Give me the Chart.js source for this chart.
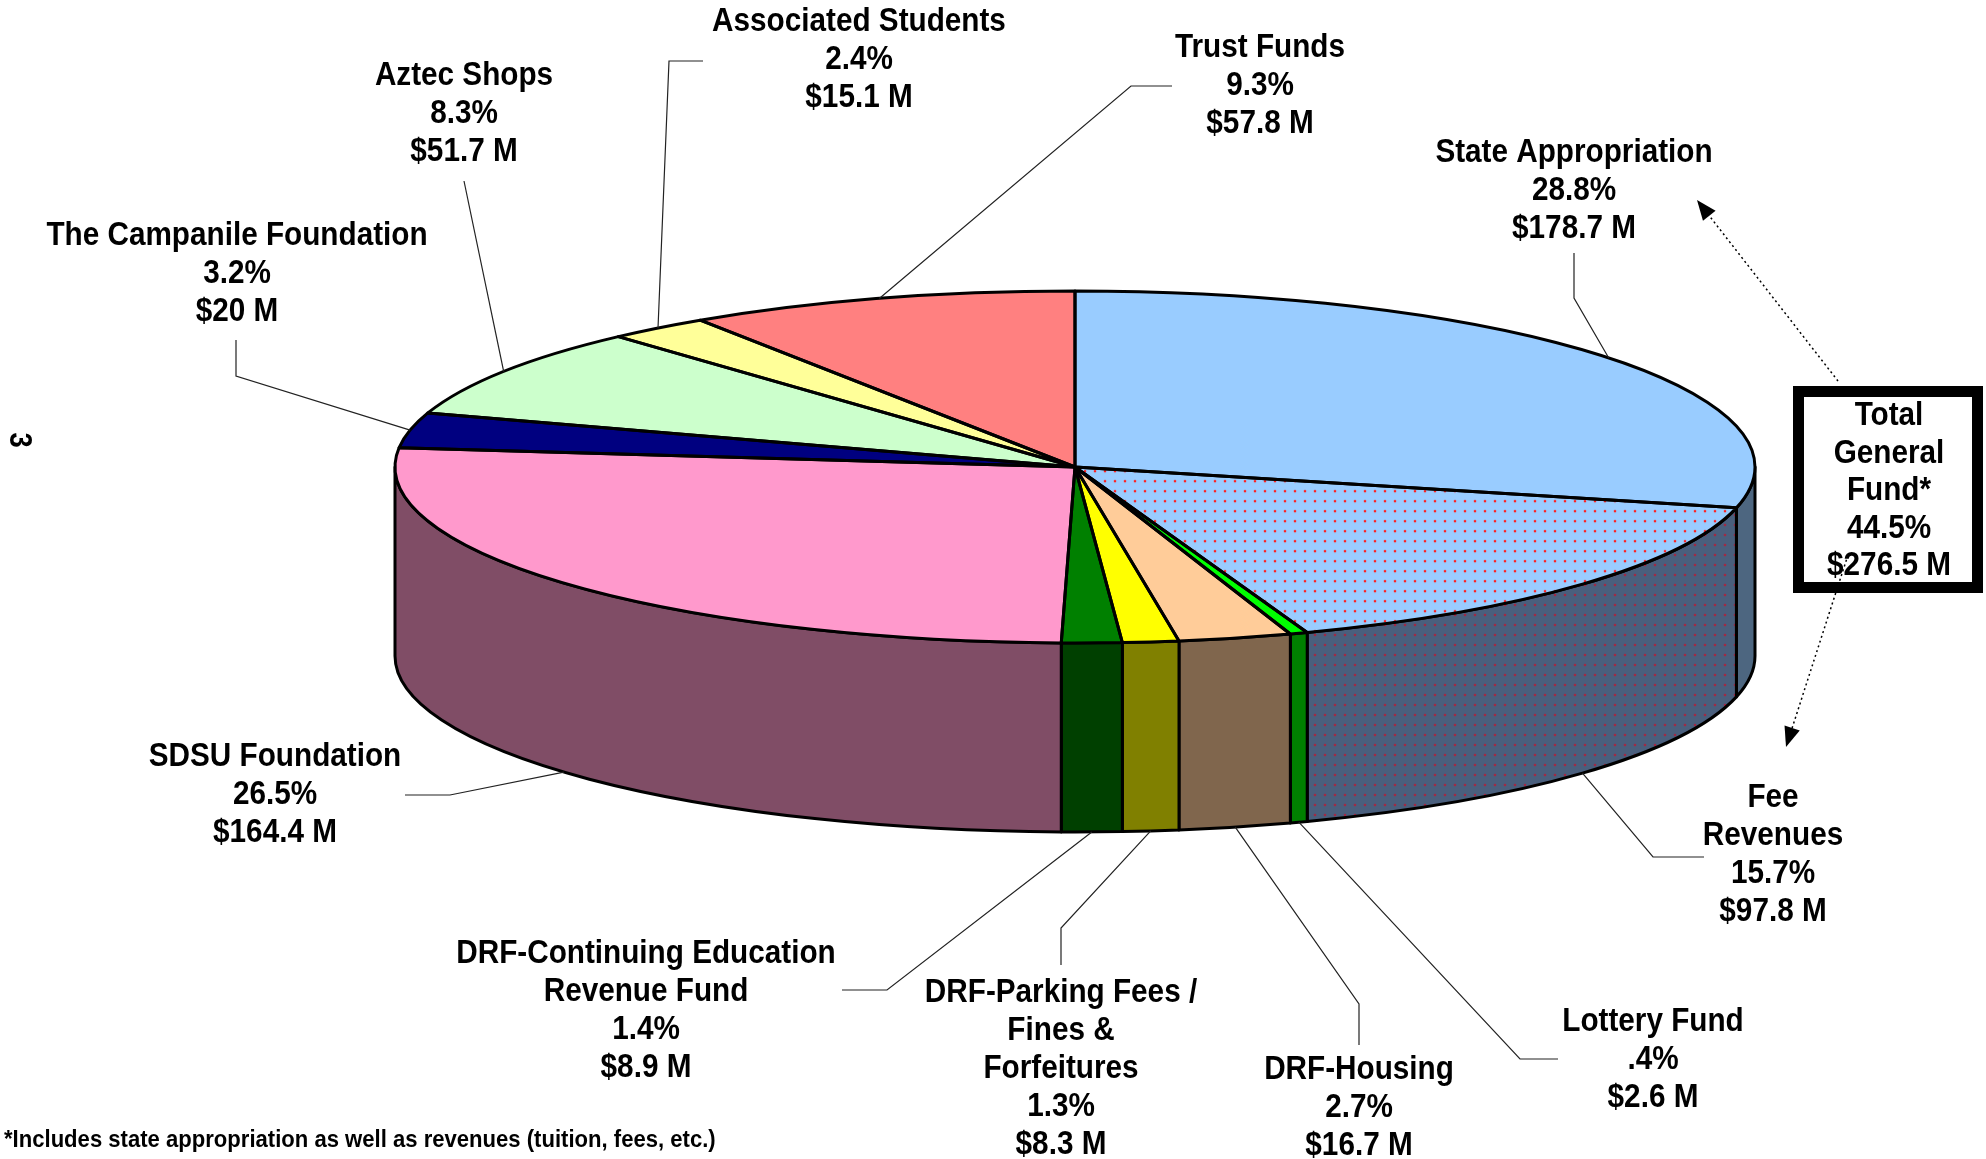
<!DOCTYPE html>
<html>
<head>
<meta charset="utf-8">
<script src="https://cdn.jsdelivr.net/npm/chart.js@4.4.1/dist/chart.umd.min.js"></script>
<style>
html, body { margin: 0; padding: 0; background: #fff; }
</style>
</head>
<body>
<canvas id="myChart" width="1986" height="1159"></canvas>
<script>
// slices, clockwise from 12 o'clock
const labels = ['State Appropriation', 'Fee Revenues', 'Lottery Fund', 'DRF-Housing',
    'DRF-Parking Fees / Fines & Forfeitures', 'DRF-Continuing Education Revenue Fund',
    'SDSU Foundation', 'The Campanile Foundation', 'Aztec Shops', 'Associated Students', 'Trust Funds'];
const nameLines = [['State Appropriation'], ['Fee', 'Revenues'], ['Lottery Fund'], ['DRF-Housing'],
    ['DRF-Parking Fees /', 'Fines &', 'Forfeitures'], ['DRF-Continuing Education', 'Revenue Fund'],
    ['SDSU Foundation'], ['The Campanile Foundation'], ['Aztec Shops'], ['Associated Students'], ['Trust Funds']];
const percents = ['28.8%', '15.7%', '.4%', '2.7%', '1.3%', '1.4%', '26.5%', '3.2%', '8.3%', '2.4%', '9.3%'];
const amounts = [178.7, 97.8, 2.6, 16.7, 8.3, 8.9, 164.4, 20, 51.7, 15.1, 57.8];
const totalLines = ['Total', 'General', 'Fund*', '44.5%', '$276.5 M'];
const footnote = '*Includes state appropriation as well as revenues (tuition, fees, etc.)';
const pageNumber = '3';

const topColors = ['#99ccff', 'pattern', '#00ff00', '#ffcc99', '#ffff00', '#008000',
    '#ff99cc', '#000080', '#ccffcc', '#ffff99', '#ff8080'];
const sideColors = ['#4d6680', 'pattern', '#008000', '#80664d', '#808000', '#004000',
    '#804d66', '#000040', '#667f66', '#80804d', '#804040'];

// layout (px)
const squash = 176 / 680;
const depth = 189;
const lineH = 38;
const labelFont = 'bold 33px "Liberation Sans", Arial, sans-serif';
const textSx = 0.9;
const labelPos = [[1574, 153], [1773, 798], [1653, 1022], [1359, 1070], [1061, 993], [646, 954],
    [275, 757], [237, 236], [464, 76], [859, 22], [1260, 48]];
const leaderBends = [
    [[1574, 298], [1574, 253]],
    [[1653, 857], [1704, 857]],
    [[1520, 1059], [1558, 1059]],
    [[1359, 1004], [1359, 1045]],
    [[1061, 928], [1061, 965]],
    [[887, 990], [842, 990]],
    [[450, 795], [405, 795]],
    [[236, 376], [236, 340]],
    [[464, 181]],
    [[669, 61], [703, 61]],
    [[1131, 86], [1172, 86]]
];

function dotPattern(bg, dot, h) {
    const c = document.createElement('canvas');
    c.width = 10; c.height = 10;
    const g = c.getContext('2d');
    g.fillStyle = bg; g.fillRect(0, 0, 10, 10);
    g.fillStyle = dot;
    g.beginPath(); g.arc(5, 5, 1.3, 0, Math.PI * 2); g.fill();
    const p = document.createElement('canvas').getContext('2d').createPattern(c, 'repeat');
    if (h) p.setTransform(new DOMMatrix([1, 0, 0, h, 0, 0]));
    return p;
}
const feeTop = dotPattern('#99ccff', '#ff2020', 1 / squash);
const feeSide = dotPattern('#4a5f7d', '#a02a45');

function drawText(ctx, str, x, y, font, sx) {
    ctx.save();
    ctx.font = font;
    ctx.translate(x, y);
    ctx.scale(sx, 1);
    ctx.fillText(str, 0, 0);
    ctx.restore();
}

const pie3d = {
    id: 'pie3d',
    beforeDatasetsDraw(chart) {
        const ctx = chart.ctx;
        const arcs = chart.getDatasetMeta(0).data;
        const cx = arcs[0].x, cy = arcs[0].y, rx = arcs[0].outerRadius, ry = rx * squash;
        ctx.save();
        ctx.lineWidth = 3;
        ctx.strokeStyle = '#000';
        ctx.lineJoin = 'round';
        arcs.forEach((a, i) => {
            const s = Math.max(a.startAngle, 0), e = Math.min(a.endAngle, Math.PI);
            if (e <= s) return;
            ctx.beginPath();
            ctx.ellipse(cx, cy, rx, ry, 0, s, e);
            ctx.lineTo(cx + rx * Math.cos(e), cy + ry * Math.sin(e) + depth);
            ctx.ellipse(cx, cy + depth, rx, ry, 0, e, s, true);
            ctx.closePath();
            ctx.fillStyle = sideColors[i] === 'pattern' ? feeSide : sideColors[i];
            ctx.fill();
            ctx.stroke();
        });
        ctx.restore();
        // squash the library's circle into the top ellipse
        ctx.save();
        ctx.translate(cx, cy);
        ctx.scale(1, squash);
        ctx.translate(-cx, -cy);
    },
    afterDatasetsDraw(chart) {
        const ctx = chart.ctx;
        ctx.restore();
        const arcs = chart.getDatasetMeta(0).data;
        const cx = arcs[0].x, cy = arcs[0].y, rx = arcs[0].outerRadius, ry = rx * squash;
        ctx.save();
        ctx.lineWidth = 3;
        ctx.strokeStyle = '#000';
        ctx.lineJoin = 'round';
        arcs.forEach(a => {
            ctx.beginPath();
            ctx.moveTo(cx, cy);
            ctx.ellipse(cx, cy, rx, ry, 0, a.startAngle, a.endAngle);
            ctx.closePath();
            ctx.stroke();
        });
        ctx.restore();
    },
    afterDraw(chart) {
        const ctx = chart.ctx;
        const arcs = chart.getDatasetMeta(0).data;
        const cx = arcs[0].x, cy = arcs[0].y, rx = arcs[0].outerRadius, ry = rx * squash;
        ctx.save();
        // leader lines
        ctx.strokeStyle = '#222';
        ctx.lineWidth = 1.2;
        arcs.forEach((a, i) => {
            const m = (a.startAngle + a.endAngle) / 2;
            const front = Math.sin(m) > 0;
            ctx.beginPath();
            ctx.moveTo(cx + rx * Math.cos(m), cy + ry * Math.sin(m) + (front ? depth : 0));
            leaderBends[i].forEach(p => ctx.lineTo(p[0], p[1]));
            ctx.stroke();
        });
        // labels
        ctx.fillStyle = '#000';
        ctx.textAlign = 'center';
        ctx.textBaseline = 'middle';
        labels.forEach((name, i) => {
            const lines = nameLines[i].concat([percents[i], '$' + amounts[i] + ' M']);
            lines.forEach((t, j) => drawText(ctx, t, labelPos[i][0], labelPos[i][1] + j * lineH, labelFont, textSx));
        });
        // total general fund box
        ctx.fillStyle = '#fff';
        ctx.fillRect(1793, 386, 190, 207);
        ctx.lineWidth = 11;
        ctx.strokeStyle = '#000';
        ctx.strokeRect(1798.5, 391.5, 179, 196);
        ctx.fillStyle = '#000';
        totalLines.forEach((t, j) => drawText(ctx, t, 1889, 416 + j * 37.5, labelFont, textSx));
        // dotted arrows
        ctx.lineWidth = 1.5;
        ctx.setLineDash([2, 3]);
        const arrows = [[1838, 381, 1697, 200], [1848, 555, 1786, 747]];
        arrows.forEach(([x0, y0, x1, y1]) => {
            const ang = Math.atan2(y1 - y0, x1 - x0);
            ctx.beginPath();
            ctx.moveTo(x0, y0);
            ctx.lineTo(x1 - 16 * Math.cos(ang), y1 - 16 * Math.sin(ang));
            ctx.stroke();
        });
        ctx.setLineDash([]);
        arrows.forEach(([x0, y0, x1, y1]) => {
            const ang = Math.atan2(y1 - y0, x1 - x0);
            ctx.beginPath();
            ctx.moveTo(x1, y1);
            ctx.lineTo(x1 - 20 * Math.cos(ang) + 8 * Math.sin(ang), y1 - 20 * Math.sin(ang) - 8 * Math.cos(ang));
            ctx.lineTo(x1 - 20 * Math.cos(ang) - 8 * Math.sin(ang), y1 - 20 * Math.sin(ang) + 8 * Math.cos(ang));
            ctx.closePath();
            ctx.fill();
        });
        // footnote
        ctx.textAlign = 'left';
        drawText(ctx, footnote, 4, 1140, 'bold 24px "Liberation Sans", Arial, sans-serif', 0.92);
        // page number, rotated
        ctx.save();
        ctx.translate(19, 440);
        ctx.rotate(Math.PI / 2);
        ctx.textAlign = 'center';
        drawText(ctx, pageNumber, 0, 0, 'bold 32px "Liberation Sans", Arial, sans-serif', 0.85);
        ctx.restore();
        ctx.restore();
    }
};

const ctx = document.getElementById('myChart').getContext('2d');
const myChart = new Chart(ctx, {
    type: 'pie',
    data: {
        labels: labels,
        datasets: [{
            data: amounts,
            backgroundColor: topColors.map(c => c === 'pattern' ? feeTop : c),
            borderWidth: 0,
            clip: false
        }]
    },
    options: {
        responsive: false,
        animation: false,
        events: [],
        radius: 680,
        layout: { padding: { left: 164, right: 0, top: 0, bottom: 225 } },
        plugins: {
            legend: { display: false },
            tooltip: { enabled: false }
        }
    },
    plugins: [pie3d]
});
</script>
</body>
</html>
